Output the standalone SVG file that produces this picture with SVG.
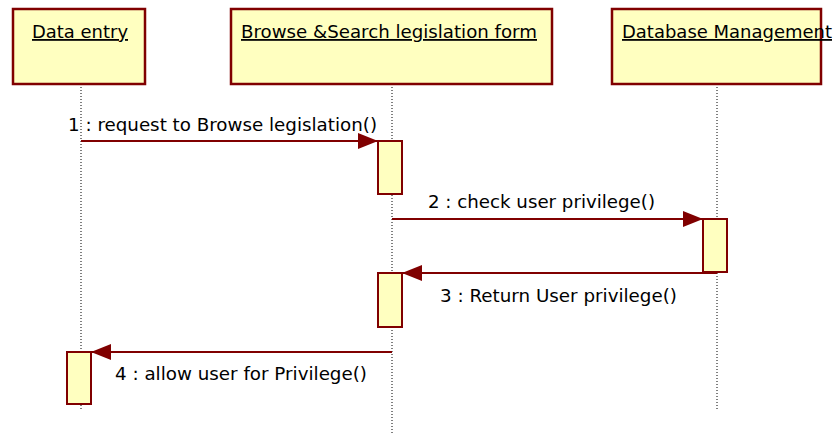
<svg xmlns="http://www.w3.org/2000/svg" width="835" height="433" viewBox="0 0 835 433">
<defs>
<style>
.obj{fill:#ffffc0;stroke:#800000;stroke-width:2.5}
.act{fill:#ffffc0;stroke:#800000;stroke-width:2}
.life{stroke:#000;stroke-width:1;stroke-dasharray:1,2;fill:none}
.msg{stroke:#800000;stroke-width:2;fill:none}
.t{font-family:"DejaVu Sans",sans-serif;font-size:18px;fill:#000}
.u{text-decoration:underline}
</style>
<marker id="ah" viewBox="0 0 20 16" refX="20" refY="8" markerWidth="20" markerHeight="16" markerUnits="userSpaceOnUse" orient="auto">
<path d="M0,0 L20,8 L0,16 Z" fill="#800000"/>
</marker>
</defs>
<g id="lifelines">
<line class="life" x1="81" y1="84" x2="81" y2="410"/>
<line class="life" x1="392" y1="84" x2="392" y2="433"/>
<line class="life" x1="717" y1="84" x2="717" y2="410"/>
</g>
<g id="node-data-entry">
<rect class="obj" x="13" y="9" width="132" height="75"/>
<text class="t u" x="32" y="38" textLength="96" lengthAdjust="spacingAndGlyphs">Data entry</text>
</g>
<g id="node-browse">
<rect class="obj" x="231" y="9" width="321" height="75"/>
<text class="t u" x="241" y="38" textLength="296" lengthAdjust="spacingAndGlyphs">Browse &amp;Search legislation form</text>
</g>
<g id="node-db">
<rect class="obj" x="612" y="9" width="209" height="75"/>
<text class="t u" x="622" y="38" textLength="210" lengthAdjust="spacingAndGlyphs">Database Management</text>
</g>
<g id="activations">
<rect class="act" x="378" y="141" width="24" height="53"/>
<rect class="act" x="703" y="219" width="24" height="53"/>
<rect class="act" x="378" y="273" width="24" height="54"/>
<rect class="act" x="67" y="352" width="24" height="52"/>
</g>
<g id="connectors">
<line class="msg" x1="81" y1="141" x2="378" y2="141" marker-end="url(#ah)"/>
<line class="msg" x1="392" y1="219" x2="703" y2="219" marker-end="url(#ah)"/>
<line class="msg" x1="717" y1="273" x2="402" y2="273" marker-end="url(#ah)"/>
<line class="msg" x1="392" y1="352" x2="91" y2="352" marker-end="url(#ah)"/>
<text class="t" x="68" y="131" textLength="309" lengthAdjust="spacingAndGlyphs">1 : request to Browse legislation()</text>
<text class="t" x="428" y="208" textLength="227" lengthAdjust="spacingAndGlyphs">2 : check user privilege()</text>
<text class="t" x="440" y="302" textLength="237" lengthAdjust="spacingAndGlyphs">3 : Return User privilege()</text>
<text class="t" x="115" y="380" textLength="252" lengthAdjust="spacingAndGlyphs">4 : allow user for Privilege()</text>
</g>
</svg>
